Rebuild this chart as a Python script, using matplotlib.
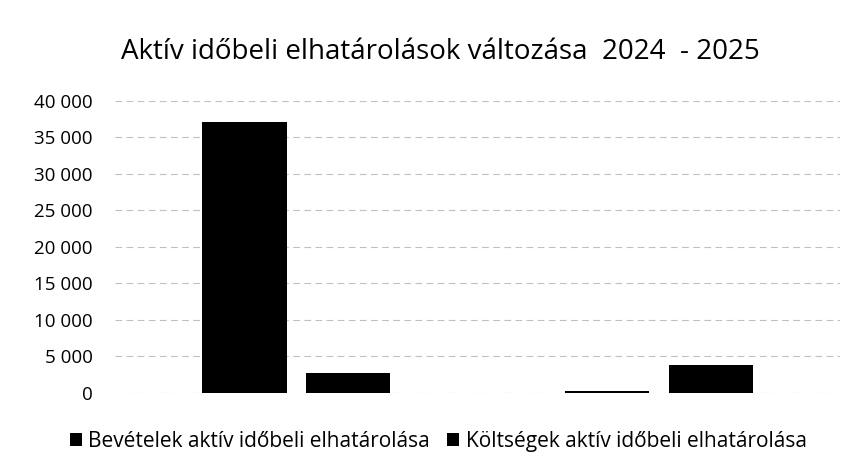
import numpy as np
import matplotlib
matplotlib.use("Agg")
import matplotlib.pyplot as plt

# adatok
categories = ["2024", "2025"]
series_names = ["Bevételek aktív időbeli elhatárolása",
                "Költségek aktív időbeli elhatárolása"]
bevetelek = [37100, 250]
koltsegek = [2800, 3850]
y_ticks = [0, 5000, 10000, 15000, 20000, 25000, 30000, 35000, 40000]

plt.rcParams["font.family"] = ["Open Sans", "DejaVu Sans"]

fig = plt.figure(figsize=(8.59, 4.76), dpi=100)
ax = fig.add_axes([0.134, 0.1744, 0.844, 0.6136])

x = np.arange(len(categories))
w = 0.232
off = 0.143
ax.bar(x - off, bevetelek, width=w, color="black", label=series_names[0], zorder=3)
ax.bar(x + off, koltsegek, width=w, color="black", label=series_names[1], zorder=3)

ax.set_xlim(-0.5, 1.5)
ax.set_ylim(0, 40000)
ax.set_yticks(y_ticks)
ax.set_yticklabels([f"{v:,}".replace(",", " ") for v in y_ticks], fontsize=13.5)
ax.set_xticks([])
ax.tick_params(axis="y", length=0, pad=16)
ax.grid(axis="y", color="#c0c0c0", linestyle=(0, (6, 4)), linewidth=0.8, zorder=0)
for s in ax.spines.values():
    s.set_visible(False)

fig.text(0.513, 0.89, "Aktív időbeli elhatárolások változása  2024  - 2025",
         ha="center", va="center", fontsize=20)

fig.legend(loc="center", bbox_to_anchor=(0.51, 0.072), ncol=2, frameon=False,
           fontsize=15, handlelength=0.6, handleheight=0.6, handletextpad=0.3,
           columnspacing=0.8)

fig.savefig("out.png", dpi=100)
